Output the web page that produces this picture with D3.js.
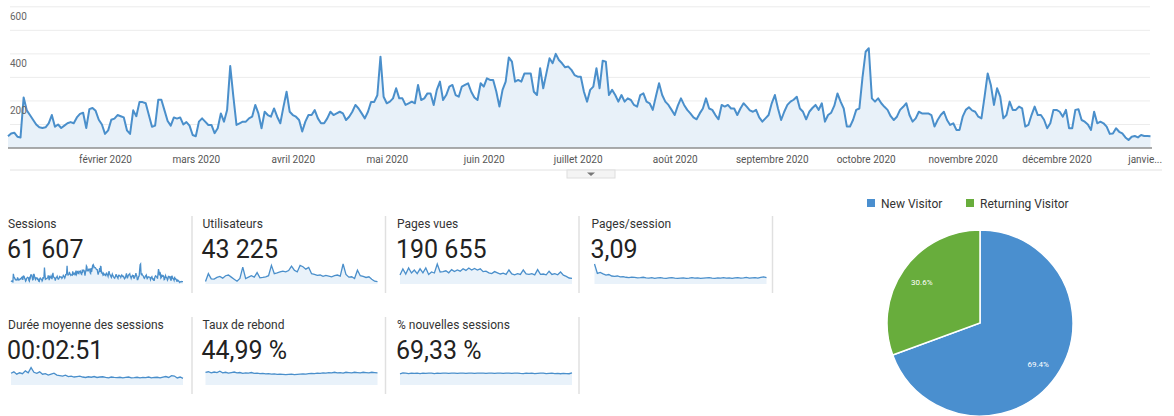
<!DOCTYPE html>
<html><head><meta charset="utf-8">
<script src="https://cdn.jsdelivr.net/npm/d3@7"></script>
<style>body{margin:0;background:#fff;font-family:Roboto,"Noto Sans",sans-serif}</style>
</head><body>
<svg id="c" width="1174" height="416"></svg>
<script>
// ---- Main chart: daily sessions, 1 Jan 2020 .. 31 Dec 2020 ----
const sessionsJanFeb = [50,62,65,48,45,215,160,140,120,100,88,85,88,105,140,90,100,85,95,105,110,105,130,145,150,85,165,170,158,120,100,60,75,120,125,140,135,130,75,60,160,135,195,195,190,140,90,95,205,205,160,115,95,130,125,130,100,110,95,55,50];
const sessionsMarApr = [112,126,112,98,98,63,84,147,112,161,348,218,98,105,112,112,126,133,183,147,84,154,140,133,168,133,105,175,239,154,140,133,119,70,112,140,140,161,126,105,105,126,154,140,147,154,147,119,133,154,183,168,147,126,154,196,196,224,388];
const sessionsMayJun = [218,190,197,211,254,211,211,183,190,197,190,268,204,211,232,232,183,247,282,204,225,261,268,225,218,261,268,275,239,215,204,275,261,296,289,289,240,176,247,282,385,367,282,289,282,317,317,317,239,225,339,254,317,381,360,400,374,360,343,346,332,310,303];
const sessionsJulAug = [303,239,197,247,261,339,254,371,367,225,247,225,197,225,197,211,204,183,176,225,232,197,190,162,220,275,225,197,183,162,140,180,211,183,162,147,130,122,147,168,211,168,162,140,122,183,176,183,168,168,140,168,190,176,160,154,162,130,112,126,140];
const sessionsSepOct = [190,225,168,119,154,183,197,205,218,168,154,122,154,170,183,162,190,112,140,150,180,232,197,168,91,91,120,162,168,300,409,424,211,197,211,190,175,162,135,119,133,162,175,190,140,112,126,154,147,147,147,140,91,119,140,154,119,98,105,77];
const sessionsNovDec = [77,133,162,173,160,154,133,126,218,317,268,183,254,218,126,140,197,162,162,176,168,91,98,140,176,140,140,120,84,105,162,162,154,133,162,84,84,162,165,119,112,100,77,154,105,112,105,91,60,62,84,69,62,45,34,48,51,45,55,51,51,50];
const sessions = [].concat(sessionsJanFeb, sessionsMarApr, sessionsMayJun, sessionsJulAug, sessionsSepOct, sessionsNovDec);

const yTicks = [200, 400, 600];
const yGrid = [100, 200, 300, 400, 500, 600];
const monthLabels = ["février 2020","mars 2020","avril 2020","mai 2020","juin 2020","juillet 2020","août 2020","septembre 2020","octobre 2020","novembre 2020","décembre 2020","janvie..."];

// ---- Scorecards ----
const metricNames = ["Sessions","Utilisateurs","Pages vues","Pages/session","Durée moyenne des sessions","Taux de rebond","% nouvelles sessions"];
const metricValues = ["61 607","43 225","190 655","3,09","00:02:51","44,99 %","69,33 %"];
const users = [35,150,75,70,95,110,85,120,130,100,70,40,80,245,80,100,120,100,165,90,95,105,120,270,150,160,175,185,175,195,260,200,175,270,250,215,240,150,140,125,130,110,125,115,105,120,130,115,290,140,100,105,80,200,120,110,95,105,70,40,35];
const pageviews = [450,750,500,800,550,700,520,760,560,800,480,600,550,1000,600,620,660,560,720,620,700,640,760,680,800,700,780,700,760,620,640,560,520,620,560,500,540,480,700,500,460,520,480,700,500,480,520,460,720,480,500,460,640,480,520,460,600,440,380,300,280];
const pagesPerSession = [9.5,5,5.5,4.8,4.2,4.5,3.8,3.6,3.8,3.4,3.5,3.2,3.0,3.3,3.1,2.9,3.0,3.2,2.9,2.8,3.0,2.7,2.9,3.0,2.8,2.7,2.9,3.0,2.8,2.7,2.8,2.9,2.7,2.8,3.0,2.8,2.9,2.7,2.8,2.9,3.0,2.8,2.7,2.9,2.8,3.0,2.8,2.9,2.7,2.9,3.0,2.8,2.9,3.1,2.8,2.9,3.0,2.8,3.2,3.4,3.0];
const avgDuration = [250,280,230,260,240,300,260,370,270,250,280,230,240,210,230,250,210,200,190,210,180,190,170,180,190,170,160,175,165,180,160,170,175,160,150,170,160,155,165,150,160,170,150,155,165,150,160,155,170,150,160,165,150,170,180,160,200,190,150,170,140];
const bounceRate = [48,50,46,49,47,52,46,48,45,47,49,46,47,44,46,45,47,44,45,43,44,42,43,41,42,40,41,40,39,40,41,39,40,41,42,41,43,44,43,45,44,46,45,47,46,48,46,47,45,48,47,46,48,47,46,48,47,46,48,47,46];
const newSessions = [66,72,70,68,71,69,70,68,70,69,71,70,68,70,69,71,70,69,70,71,69,70,70,69,71,70,69,70,71,70,69,70,71,69,70,70,69,71,70,69,70,71,69,68,70,69,70,68,69,70,71,68,69,70,68,69,67,69,68,67,72];

// ---- Pie ----
const visitorTypes = ["New Visitor","Returning Visitor"];
const visitorShares = [69.4, 30.6];

const BLUE = "#4a8fcb", FILL = "#e8f1f9";
const svg = d3.select("#c");

// Main chart
const x = d3.scaleTime().domain([new Date(2020,0,1), new Date(2021,0,1)]).range([8, 1153.6]);
const y = d3.scaleLinear().domain([0, 600]).range([148, 6.8]);
const dates = sessions.map((v,i) => d3.timeDay.offset(new Date(2020,0,1), i));

svg.append("g").selectAll("line").data(yGrid).join("line")
  .attr("x1", 10).attr("x2", 1150).attr("y1", d => y(d)).attr("y2", d => y(d))
  .attr("stroke", "#ececec").attr("stroke-width", 1);

svg.append("path").datum(sessions)
  .attr("fill", FILL)
  .attr("d", d3.area().x((d,i) => x(dates[i])).y0(y(0)).y1(d => y(d)));
svg.append("path").datum(sessions)
  .attr("fill", "none").attr("stroke", BLUE).attr("stroke-width", 2).attr("stroke-linejoin", "round")
  .attr("d", d3.line().x((d,i) => x(dates[i])).y(d => y(d)));

svg.append("line").attr("x1", 8).attr("x2", 1152).attr("y1", y(0)).attr("y2", y(0))
  .attr("stroke", "#8f8f8f").attr("stroke-width", 1.5);

svg.append("g").selectAll("text").data(yTicks).join("text")
  .attr("x", 10).attr("y", d => y(d) + 13)
  .attr("font-size", 10).attr("fill", "#666").text(d => d);

const monthTicks = d3.timeMonth.range(new Date(2020,1,1), new Date(2021,0,2));
const xAxis = d3.axisBottom(x).tickValues(monthTicks).tickSize(0)
  .tickFormat((d,i) => monthLabels[i]);
const gx = svg.append("g").attr("transform", `translate(0,${y(0)+5})`).call(xAxis);
gx.select(".domain").remove();
gx.selectAll("text").attr("font-size", 10).attr("fill", "#555").attr("font-family", "Roboto, sans-serif");
gx.selectAll(".tick").filter((d,i) => i === monthLabels.length - 1).select("text")
  .attr("text-anchor", "end").attr("dx", 8);

svg.append("line").attr("x1", 10).attr("x2", 1162).attr("y1", 170).attr("y2", 170).attr("stroke", "#e2e2e2");
svg.append("rect").attr("x", 567).attr("y", 170).attr("width", 48).attr("height", 8)
  .attr("fill", "#f4f4f4").attr("stroke", "#dedede");
svg.append("path").attr("d", "M587,172.5 L595,172.5 L591,176 Z").attr("fill", "#777");

// Scorecards
const sparkData = [sessions, users, pageviews, pagesPerSession, avgDuration, bounceRate, newSessions];
const headroom = [1, 1, 1, 1, 1.15, 1.45, 1.65];
const colStep = 194.5;
metricNames.forEach((name, k) => {
  const row = k < 4 ? 0 : 1;
  const col = k < 4 ? k : k - 4;
  const left = 8 + col * colStep;
  const top = row * 101;
  const g = svg.append("g");
  g.append("text").attr("x", left).attr("y", 228 + top).attr("font-size", 12).attr("fill", "#333").text(name);
  g.append("text").attr("x", left - 1).attr("y", 258 + top).attr("font-size", 25).attr("fill", "#222").text(metricValues[k]);
  const data = sparkData[k];
  const sx = d3.scaleLinear().domain([0, data.length - 1]).range([left + 3, left + 175]);
  const sy = d3.scaleLinear().domain([0, d3.max(data) * headroom[k]]).range([284 + top, 264 + top]);
  g.append("path").datum(data).attr("fill", "#e9f2fa")
    .attr("d", d3.area().x((d,i) => sx(i)).y0(284 + top).y1(d => sy(d)));
  g.append("path").datum(data).attr("fill", "none").attr("stroke", BLUE).attr("stroke-width", 1.3)
    .attr("d", d3.line().x((d,i) => sx(i)).y(d => sy(d)));
  if (!(row === 1 && col === 3)) {
    const dx = 192 + col * colStep - (col > 0 ? 2 * col : 0) * 0.5;
    if (col < 3 || row === 0) {
      g.append("line").attr("x1", dx).attr("x2", dx).attr("y1", 216 + top).attr("y2", 293 + top)
        .attr("stroke", "#e0e0e0").attr("stroke-width", 1.5);
    }
  }
});

// Pie
const pieColors = ["#4a8fcf", "#68ad3c"];
const cx = 980, cy = 323, R = 93;
const arcs = d3.pie().sort(null).value(d => d)(visitorShares);
const arc = d3.arc().innerRadius(0).outerRadius(R);
const labelArc = d3.arc().innerRadius(71).outerRadius(71);
const pg = svg.append("g").attr("transform", `translate(${cx},${cy})`);
pg.selectAll("path").data(arcs).join("path")
  .attr("d", arc).attr("fill", (d,i) => pieColors[i]).attr("stroke", "#fff").attr("stroke-width", 1.5);
pg.selectAll("text").data(arcs).join("text")
  .attr("transform", d => `translate(${labelArc.centroid(d)})`)
  .attr("text-anchor", "middle").attr("dy", 3).attr("font-size", 8).attr("fill", "#fff")
  .text(d => d.data.toFixed(1) + "%");

const legendX = [867, 966];
const lg = svg.append("g");
visitorTypes.forEach((t, i) => {
  lg.append("rect").attr("x", legendX[i]).attr("y", 199).attr("width", 8).attr("height", 8).attr("fill", pieColors[i]);
  lg.append("text").attr("x", legendX[i] + 14).attr("y", 208).attr("font-size", 12).attr("fill", "#333").text(t);
});
</script>
</body></html>
